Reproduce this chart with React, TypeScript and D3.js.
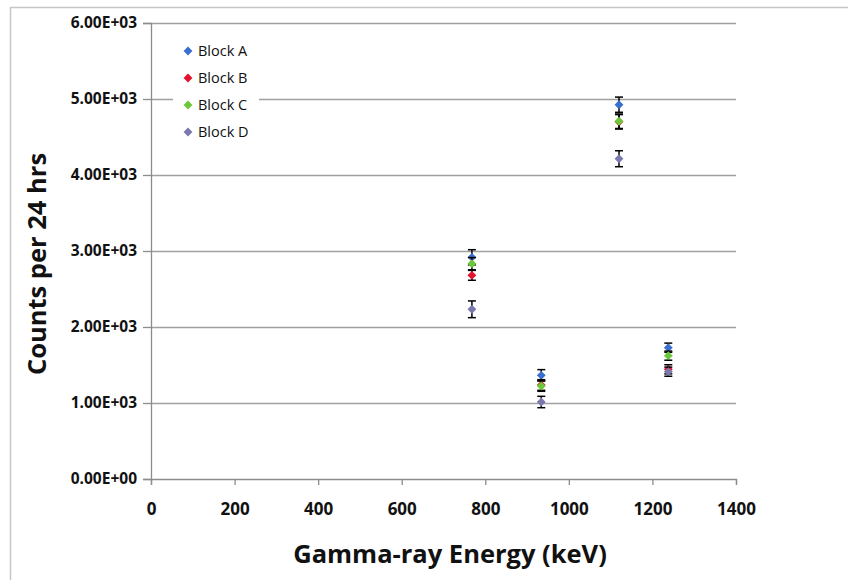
import React, { useEffect, useRef } from 'react';
import * as d3 from 'd3';

// gamma line energies (keV)
const energies = [768, 934, 1120, 1238];

const seriesNames = ['Block A', 'Block B', 'Block C', 'Block D'];
const seriesColors = ['#3a6fd0', '#e3122e', '#6cc83a', '#7b78ae'];

// counts per 24 hrs, per block
const blockA = [2917, 1364, 4925, 1728];
const blockB = [2680, 1237, 4700, 1443];
const blockC = [2833, 1224, 4707, 1623];
const blockD = [2233, 1013, 4214, 1412];

// error bar half widths
const errA = [100, 75, 100, 60];
const errB = [65, 70, 95, 60];
const errC = [80, 70, 95, 60];
const errD = [110, 75, 105, 60];

const yTicks = [0, 1000, 2000, 3000, 4000, 5000, 6000];
const xTicks = [0, 200, 400, 600, 800, 1000, 1200, 1400];

const W = 848;
const H = 580;
const margin = { top: 23, right: 112, bottom: 101, left: 151 };
const FONT = "'Open Sans', sans-serif";

const draw = (el: SVGSVGElement) => {
  const svg = d3.select(el);
  svg.selectAll('*').remove();

  const x = d3.scaleLinear().domain([0, 1400]).range([margin.left, W - margin.right]);
  const y = d3.scaleLinear().domain([0, 6000]).range([H - margin.bottom, margin.top]);

  // outer frame
  svg.append('rect')
    .attr('x', 10.5).attr('y', 7.5)
    .attr('width', W + 10).attr('height', H + 10)
    .attr('fill', '#fff').attr('stroke', '#c6c6c6').attr('stroke-width', 1.5);

  // gridlines
  svg.append('g')
    .selectAll('line')
    .data(yTicks.slice(1))
    .enter()
    .append('line')
    .attr('x1', margin.left).attr('x2', W - margin.right)
    .attr('y1', d => Math.round(y(d)) + 0.5).attr('y2', d => Math.round(y(d)) + 0.5)
    .attr('stroke', '#a0a0a0').attr('stroke-width', 1.3);

  const fmt = (d: number) => d.toExponential(2).toUpperCase().replace(/E([+-])(\d)$/, 'E$10$2');

  const yAxis = svg.append('g')
    .attr('transform', `translate(${margin.left},0)`)
    .call(d3.axisLeft(y).tickValues(yTicks).tickSize(8).tickPadding(6).tickFormat(d => fmt(d as number)));
  const xAxis = svg.append('g')
    .attr('transform', `translate(0,${H - margin.bottom})`)
    .call(d3.axisBottom(x).tickValues(xTicks).tickSize(6).tickPadding(18).tickFormat(d3.format('d')));

  [yAxis, xAxis].forEach(g => {
    g.select('.domain').attr('stroke', '#8c8c8c').attr('stroke-width', 1.3);
    g.selectAll('.tick line').attr('stroke', '#8c8c8c').attr('stroke-width', 1.3);
    g.selectAll('.tick text')
      .attr('fill', '#111')
      .attr('font-family', FONT)
      .attr('font-weight', 'bold');
  });
  yAxis.selectAll('.tick text').attr('font-size', 15.5);
  xAxis.selectAll('.tick text').attr('font-size', 17);

  // axis titles
  svg.append('text')
    .attr('x', 450)
    .attr('y', 563)
    .attr('text-anchor', 'middle')
    .attr('font-family', FONT).attr('font-weight', 'bold').attr('font-size', 25.5)
    .attr('fill', '#111')
    .text('Gamma-ray Energy (keV)');
  svg.append('text')
    .attr('transform', 'translate(46,264) rotate(-90)')
    .attr('text-anchor', 'middle')
    .attr('font-family', FONT).attr('font-weight', 'bold').attr('font-size', 25.5)
    .attr('fill', '#111')
    .text('Counts per 24 hrs');

  const values = [blockA, blockB, blockC, blockD];
  const errors = [errA, errB, errC, errD];
  const diamond = d3.symbol().type(d3.symbolDiamond2).size(50);

  values.forEach((vals, s) => {
    const pts = vals.map((v, i) => ({ e: energies[i], v, err: errors[s][i] }));
    const g = svg.append('g');
    const eb = g.selectAll('g.eb').data(pts).enter().append('g')
      .attr('stroke', '#000').attr('stroke-width', 1.5);
    eb.append('line')
      .attr('x1', d => x(d.e)).attr('x2', d => x(d.e))
      .attr('y1', d => y(d.v + d.err)).attr('y2', d => y(d.v - d.err));
    eb.append('line')
      .attr('x1', d => x(d.e) - 4).attr('x2', d => x(d.e) + 4)
      .attr('y1', d => y(d.v + d.err)).attr('y2', d => y(d.v + d.err));
    eb.append('line')
      .attr('x1', d => x(d.e) - 4).attr('x2', d => x(d.e) + 4)
      .attr('y1', d => y(d.v - d.err)).attr('y2', d => y(d.v - d.err));
    g.selectAll('path').data(pts).enter().append('path')
      .attr('d', diamond)
      .attr('transform', d => `translate(${x(d.e)},${y(d.v)})`)
      .attr('fill', seriesColors[s]);
  });

  // legend
  const lg = svg.append('g');
  lg.append('rect')
    .attr('x', 173).attr('y', 36).attr('width', 86).attr('height', 108)
    .attr('fill', '#fff');
  seriesNames.forEach((name, i) => {
    const ly = 51 + i * 27;
    lg.append('path')
      .attr('d', diamond)
      .attr('transform', `translate(188,${ly})`)
      .attr('fill', seriesColors[i]);
    lg.append('text')
      .attr('x', 198).attr('y', ly + 5)
      .attr('font-family', FONT).attr('font-size', 14.5)
      .attr('fill', '#111')
      .text(name);
  });
};

export default function App() {
  const ref = useRef<SVGSVGElement>(null);
  useEffect(() => {
    if (ref.current) draw(ref.current);
  }, []);
  return (
    <svg ref={ref} width={W} height={H}
      style={{ position: 'absolute', left: 0, top: 0, background: '#fff' }} />
  );
}
